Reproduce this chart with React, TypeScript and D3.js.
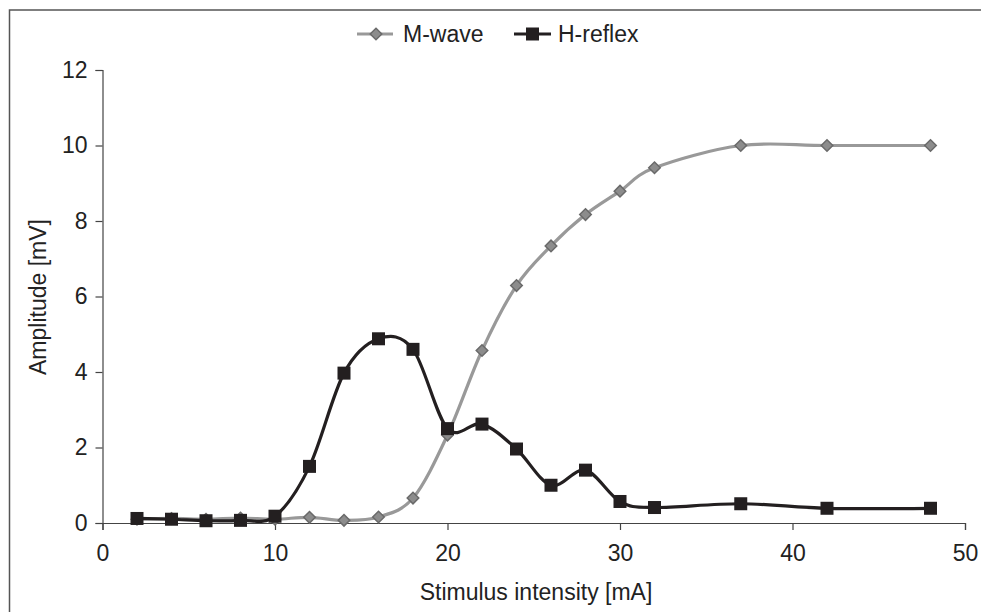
import React, { useEffect, useRef } from 'react';
import * as d3 from 'd3';

const intensity = [2, 4, 6, 8, 10, 12, 14, 16, 18, 20, 22, 24, 26, 28, 30, 32, 37, 42, 48];
const mWave = [0.1, 0.12, 0.1, 0.13, 0.1, 0.15, 0.07, 0.16, 0.66, 2.33, 4.57, 6.29, 7.34, 8.17, 8.79, 9.41, 10.0, 10.0, 10.0];
const hReflex = [0.12, 0.1, 0.06, 0.07, 0.18, 1.5, 3.97, 4.88, 4.6, 2.5, 2.62, 1.96, 1.0, 1.4, 0.57, 0.41, 0.51, 0.39, 0.39];
const xTicks = [0, 10, 20, 30, 40, 50];
const yTicks = [0, 2, 4, 6, 8, 10, 12];

const W = 981;
const H = 612;
const FONT = '"Liberation Sans", Arial, sans-serif';
const FS = 23;

const App = () => {
    const svgRef = useRef<SVGSVGElement>(null);

    useEffect(() => {
        if (!svgRef.current) return;
        const svg = d3.select(svgRef.current);
        svg.selectAll("*").remove();

        const x = d3.scaleLinear().domain([0, 50]).range([102.5, 965]);
        const y = d3.scaleLinear().domain([0, 12]).range([523, 70]);

        // outer frame (only top and left visible)
        svg.append("path")
            .attr("d", `M9.5,612 V10 H${W}`)
            .attr("fill", "none")
            .attr("stroke", "#555")
            .attr("stroke-width", 1.5);

        // axes
        const xAxis = svg.append("g")
            .attr("transform", `translate(0,${y(0)})`)
            .call(d3.axisBottom(x).tickValues(xTicks).tickSize(7).tickPadding(15).tickFormat(d3.format("d")));
        const yAxis = svg.append("g")
            .attr("transform", `translate(${x(0)},0)`)
            .call(d3.axisLeft(y).tickValues(yTicks).tickSize(7).tickPadding(8).tickFormat(d3.format("d")));

        [xAxis, yAxis].forEach(g => {
            g.select(".domain").attr("stroke", "#444").attr("stroke-width", 1.2);
            g.selectAll(".tick line").attr("stroke", "#444").attr("stroke-width", 1.2);
            g.selectAll(".tick text")
                .attr("fill", "#222")
                .style("font-family", FONT)
                .style("font-size", FS + "px");
        });

        // axis titles
        svg.append("text")
            .attr("x", 536)
            .attr("y", 600)
            .attr("text-anchor", "middle")
            .attr("fill", "#222")
            .style("font-family", FONT)
            .style("font-size", FS + "px")
            .text("Stimulus intensity [mA]");

        svg.append("text")
            .attr("transform", `translate(46,297) rotate(-90)`)
            .attr("text-anchor", "middle")
            .attr("fill", "#222")
            .style("font-family", FONT)
            .style("font-size", FS + "px")
            .text("Amplitude [mV]");

        const line = d3.line<number>()
            .x((_, i) => x(intensity[i]))
            .y(d => y(d))
            .curve(d3.curveCardinal);

        // M-wave
        svg.append("path")
            .datum(mWave)
            .attr("d", line)
            .attr("fill", "none")
            .attr("stroke", "#999")
            .attr("stroke-width", 3.2);

        const diamond = d3.symbol().type(d3.symbolDiamond2).size(85);
        svg.selectAll(".mw")
            .data(mWave)
            .join("path")
            .attr("class", "mw")
            .attr("d", diamond)
            .attr("transform", (d, i) => `translate(${x(intensity[i])},${y(d)})`)
            .attr("fill", "#8c8c8c")
            .attr("stroke", "#6a6a6a")
            .attr("stroke-width", 1.5);

        // H-reflex
        svg.append("path")
            .datum(hReflex)
            .attr("d", line)
            .attr("fill", "none")
            .attr("stroke", "#231f20")
            .attr("stroke-width", 3.2);

        svg.selectAll(".hr")
            .data(hReflex)
            .join("rect")
            .attr("class", "hr")
            .attr("x", (d, i) => x(intensity[i]) - 6.5)
            .attr("y", d => y(d) - 6.5)
            .attr("width", 13)
            .attr("height", 13)
            .attr("fill", "#231f20");

        // legend
        const legend = svg.append("g");
        legend.append("line")
            .attr("x1", 357).attr("x2", 393).attr("y1", 34).attr("y2", 34)
            .attr("stroke", "#999").attr("stroke-width", 3.2);
        legend.append("path")
            .attr("d", diamond)
            .attr("transform", "translate(376,34)")
            .attr("fill", "#8c8c8c")
            .attr("stroke", "#6a6a6a")
            .attr("stroke-width", 1.5);
        legend.append("text")
            .attr("x", 403).attr("y", 42)
            .attr("fill", "#222")
            .style("font-family", FONT)
            .style("font-size", FS + "px")
            .text("M-wave");

        legend.append("line")
            .attr("x1", 514).attr("x2", 551).attr("y1", 34).attr("y2", 34)
            .attr("stroke", "#231f20").attr("stroke-width", 3.2);
        legend.append("rect")
            .attr("x", 526).attr("y", 27.5).attr("width", 13).attr("height", 13)
            .attr("fill", "#231f20");
        legend.append("text")
            .attr("x", 558).attr("y", 42)
            .attr("fill", "#222")
            .style("font-family", FONT)
            .style("font-size", FS + "px")
            .text("H-reflex");
    }, []);

    return (
        <svg
            ref={svgRef}
            width={W}
            height={H}
            style={{ position: 'absolute', left: 0, top: 0, background: '#fff' }}
        />
    );
};

export default App;
